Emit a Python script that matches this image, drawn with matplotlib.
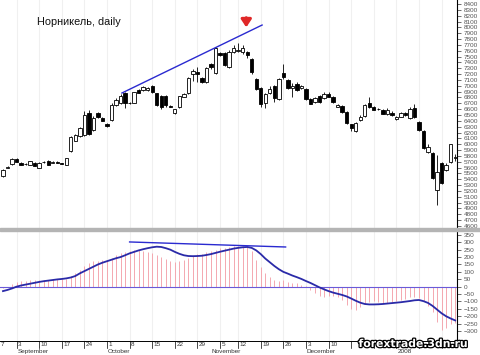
import matplotlib
matplotlib.use("Agg")
import matplotlib.pyplot as plt
import matplotlib.patheffects as pe
from matplotlib.transforms import blended_transform_factory
import numpy as np

# ---------------- data ----------------
opens = [5460,5600,5665,5745,5680,5665,5650,5680,5595,5690,5710,5685,5695,5678,5650,5880,6060,6140,6160,6530,
         6240,6530,6450,6345,6415,6670,6705,6875,6700,6705,6925,6925,6925,6995,6875,6825,6825,6655,6530,6635,
         6810,6875,7200,7235,7130,7065,7370,7215,7560,7560,7320,7580,7600,7580,7580,7460,7115,6960,6700,6875,
         6995,6775,7220,7100,6960,7030,6960,6945,6775,6720,6825,6790,6860,6810,6640,6655,6550,6345,6225,6410,
         6480,6705,6640,6605,6590,6510,6535,6435,6470,6535,6450,6620,6380,6225,5865,5850,5215,5680,5560,5695,5770]
highs = [5580,5630,5760,5760,5690,5675,5720,5700,5690,5715,5730,5705,5705,5685,5770,6135,6170,6300,6570,6585,
         6480,6545,6460,6355,6705,6790,6860,6890,6720,6900,6940,7000,6975,7010,6880,6840,6840,6670,6610,6830,
         6870,7150,7290,7320,7150,7320,7390,7660,7580,7580,7620,7700,7730,7700,7600,7480,7130,6980,6880,6990,
         7010,7130,7370,7120,7040,7070,7010,6960,6790,6800,6840,6890,6900,6820,6690,6670,6560,6350,6380,6500,
         6690,6810,6650,6615,6600,6620,6560,6480,6550,6550,6640,6690,6400,6250,6000,5870,5815,5700,5680,6010,5840]
lows = [5440,5590,5650,5690,5640,5645,5640,5620,5585,5680,5640,5675,5675,5655,5640,5870,6050,6130,6140,6150,
        6230,6455,6390,6300,6400,6660,6690,6620,6690,6700,6870,6915,6915,6880,6650,6600,6640,6630,6510,6620,
        6800,6860,7080,7065,7040,7050,7290,7200,7510,7340,7300,7560,7580,7550,7480,7200,6925,6640,6620,6860,
        6720,6760,7120,6940,6800,6910,6950,6760,6680,6710,6710,6780,6800,6700,6630,6540,6340,6220,6215,6400,
        6470,6620,6580,6585,6510,6500,6480,6420,6460,6490,6430,6450,6230,5920,5850,5400,4960,5320,5540,5680,5720]
closes = [5555,5615,5745,5700,5650,5655,5710,5630,5680,5700,5650,5695,5685,5665,5760,6120,6155,6280,6500,6180,
          6450,6465,6400,6310,6670,6755,6825,6705,6710,6890,6875,6980,6960,6890,6670,6635,6670,6645,6600,6825,
          6860,7130,7250,7200,7065,7300,7320,7640,7530,7360,7580,7650,7615,7650,7530,7235,6940,6690,6860,6945,
          6790,7115,7150,6960,6995,6925,6995,6775,6690,6790,6720,6860,6810,6720,6670,6550,6360,6275,6360,6465,
          6670,6640,6590,6595,6520,6590,6500,6470,6535,6500,6600,6465,6245,5935,5950,5420,5520,5335,5645,6000,5785]

macd = [-10,-2,20,30,35,40,42,42,45,48,48,50,50,50,55,75,95,110,140,160,
        170,175,178,180,195,212,225,235,240,245,245,243,235,228,215,200,188,175,168,170,
        178,195,210,218,222,232,240,250,260,262,268,272,275,276,272,240,180,130,90,68,
        48,40,45,32,28,22,12,5,-20,-40,-60,-68,-60,-60,-70,-90,-125,-150,-155,-140,
        -115,-105,-100,-105,-110,-110,-105,-95,-88,-80,-72,-68,-75,-100,-130,-170,-240,-290,-280,-255,-245]
signal = [-30,-22,-12,0,8,14,20,26,32,37,41,45,49,52,56,62,72,90,105,120,
          135,150,162,172,182,192,200,212,225,235,245,253,260,266,270,268,260,250,235,222,
          212,207,206,207,209,214,220,228,236,243,250,257,262,266,268,262,245,220,190,165,
          140,118,100,88,75,64,52,38,25,10,-5,-18,-30,-40,-48,-56,-66,-80,-95,-108,
          -117,-120,-120,-119,-117,-114,-111,-108,-105,-101,-97,-92,-90,-98,-110,-130,-155,-180,-200,-215,-228]

price_trend_idx = [26.3, 57.3]
price_trend_val = [6876, 8040]
macd_trend_idx = [28.0, 62.5]
macd_trend_val = [302, 268]

week_ticks = [-2, 3, 8, 13, 18, 23, 28, 33, 38, 43, 48, 52, 57, 62, 67, 72, 77, 82, 87, 92, 97]
week_labels = ["", "3", "10", "17", "24", "1", "8", "15", "22", "29", "5", "12", "19", "26",
               "3", "10", "", "", "", "", ""]
edge_label = "7"
month_pos = [3, 23, 46, 67, 87]
month_labels = ["September", "October", "November", "December", "2008"]

price_ticks = list(range(4600, 8401, 100))
macd_ticks = list(range(-300, 351, 50))

# ---------------- figure ----------------
W, H = 480, 355
fig = plt.figure(figsize=(W / 100, H / 100), dpi=100)
plt.rcParams['font.family'] = ['Liberation Sans', 'DejaVu Sans']

def fx(px):
    return px / W

def fy(py):
    return 1 - py / H

right = fx(457)
ax = fig.add_axes([0, fy(228), right, fy(0) - fy(228)])
ax2 = fig.add_axes([0, fy(341), right, fy(231) - fy(341)])

n = len(opens)
idx = np.arange(n)
xlim = (-0.66, 100.4)

grid_c = "#f0f0f0"
for a in (ax, ax2):
    a.set_xlim(*xlim)
    for t in week_ticks:
        a.axvline(t, color=grid_c, lw=0.8, zorder=0)
    for s in ("top", "left", "bottom"):
        a.spines[s].set_visible(False)
    a.spines["right"].set_linewidth(0.8)
    a.yaxis.tick_right()
    a.tick_params(axis="y", direction="out", length=3, width=0.5, labelsize=4.6,
                  labelcolor="#555555", color="#333333", pad=2)
    a.set_xticks([])

# candles
o = np.array(opens); c = np.array(closes); h = np.array(highs); l = np.array(lows)
ax.vlines(idx, l, h, color="black", lw=0.6, zorder=2)
up = c >= o
bottoms = np.minimum(o, c)
heights = np.maximum(np.abs(c - o), 8)
ax.bar(idx[up], heights[up], bottom=bottoms[up], width=0.74, color="white",
       edgecolor="black", linewidth=0.6, zorder=3)
ax.bar(idx[~up], heights[~up], bottom=bottoms[~up], width=0.74, color="black",
       edgecolor="black", linewidth=0.6, zorder=3)

ax.set_ylim(8400 - 224 * 17.12, 8400 + 4 * 17.12)
ax.set_yticks(price_ticks)
ax.plot(price_trend_idx, price_trend_val, color="#2a2ad0", lw=1.0, zorder=4)

ax.annotate("", xy=(53.8, 8000), xytext=(53.8, 8165),
            arrowprops=dict(arrowstyle="-|>,head_width=0.3,head_length=0.45",
                            color="#e02828", lw=2.2, shrinkA=0, shrinkB=0))
ax.text(0.081, 0.903, "Норникель, daily", transform=ax.transAxes, fontsize=7.8,
        va="center", ha="left", color="#111111")

# separator band
fig.patches.append(plt.Rectangle((0, fy(231)), 1, fy(228) - fy(231), transform=fig.transFigure,
                                 color="#b4b4b4", zorder=5))

# MACD panel
ax2.vlines(idx, 0, macd, color="#f4a8b0", lw=0.7, zorder=2)
ax2.axhline(0, color="#6a5ad8", lw=0.8, zorder=3)
ax2.plot(idx, signal, color="#2a2aa8", lw=1.3, zorder=4)
ax2.plot(macd_trend_idx, macd_trend_val, color="#2a2ad0", lw=1.0, zorder=4)
ax2.set_ylim(-367, 376)
ax2.set_yticks(macd_ticks)

# date strip
tr = blended_transform_factory(ax2.transData, fig.transFigure)
ax2.plot(list(xlim), [fy(341), fy(341)], transform=tr, color="black", lw=0.7, clip_on=False)
ax2.text(-0.45, fy(344.5), edge_label, transform=tr, fontsize=4.6, va="center", ha="left",
         color="#333333", clip_on=False)
for t, lab in zip(week_ticks, week_labels):
    ax2.plot([t, t], [fy(341), fy(348)], transform=tr, color="black", lw=0.5, clip_on=False)
    if lab:
        ax2.text(t + 0.35, fy(344.5), lab, transform=tr, fontsize=4.6, va="center", ha="left",
                 color="#333333", clip_on=False)
for t, lab in zip(month_pos, month_labels):
    ax2.text(t + 0.2, fy(351.5), lab, transform=tr, fontsize=4.6, va="center", ha="left",
             color="#333333", clip_on=False)

# watermark
fig.text(fx(413.5), fy(344), "forextrade.3dn.ru", fontsize=7.8, fontweight="bold",
         color="white", ha="center", va="center", family="DejaVu Sans",
         path_effects=[pe.withStroke(linewidth=1.8, foreground="black")], zorder=10)

fig.savefig("out.png", dpi=100)
